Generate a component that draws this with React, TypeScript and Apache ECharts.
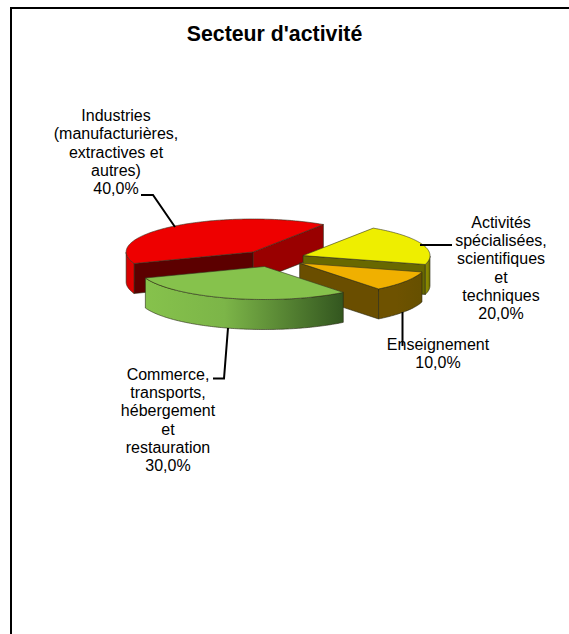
import React, { useEffect, useRef } from "react";
import * as echarts from "echarts";

const titleText = "Secteur d'activité";
const categories = [
  "Industries\n(manufacturières,\nextractives et\nautres)",
  "Activités\nspécialisées,\nscientifiques\net\ntechniques",
  "Enseignement",
  "Commerce,\ntransports,\nhébergement\net\nrestauration",
];
const values = [40, 20, 10, 30];

// pie geometry (pixels, degrees)
const center = { x: 273, y: 258.5 };
const rx = 127;
const ry = 33;
const depth = 30;
const explode = 32;
const firstAngle = 200.4; // counter-clockwise from +x, slices run clockwise

const palette = [
  { top: "#ee0000", startFace: "#5c0000", endFace: "#990000", arc: ["#d80000", "#e40000"] },
  { top: "#eeee00", startFace: "#666600", endFace: "#686800", arc: ["#8a8a00", "#6e6e00"] },
  { top: "#f0b000", startFace: "#6a4e00", endFace: "#6a4e00", arc: ["#6e5200", "#665000"] },
  { top: "#86c24c", startFace: "#4f7a2c", endFace: "#4f7a2c", arc: ["#86c24c", "#33561f"] },
];

const labelCenters = [
  { x: 116, y: 152 },
  { x: 501, y: 268 },
  { x: 438, y: 353.5 },
  { x: 168, y: 420 },
];
const leaders = [
  [[141, 195], [153, 195], [175, 227]],
  [[420, 245], [452, 245]],
  [[402.5, 312], [402.5, 346]],
  [[213, 378.5], [224, 378.5], [228, 328]],
];

const total = values.reduce((a, b) => a + b, 0);
const fmt = (v: number) => ((v / total) * 100).toFixed(1).replace(".", ",") + "%";
const rad = (d: number) => (d * Math.PI) / 180;

function renderSlice(params: any, api: any) {
  const i = params.dataIndex;
  const colors = palette[i];
  let t0 = firstAngle;
  for (let k = 0; k < i; k++) t0 -= (values[k] / total) * 360;
  const t1 = t0 - (api.value(0) / total) * 360;
  const mid = (t0 + t1) / 2;
  const cx = center.x + explode * Math.cos(rad(mid));
  const cy = center.y - (explode * ry * Math.sin(rad(mid))) / rx;
  const pt = (t: number, d = 0): number[] => [
    cx + rx * Math.cos(rad(t)),
    cy - ry * Math.sin(rad(t)) + d,
  ];
  const edge = "rgba(40,40,20,0.75)";
  const children: any[] = [];
  const face = (t: number, fill: string) =>
    children.push({
      type: "polygon",
      shape: { points: [[cx, cy], pt(t), pt(t, depth), [cx, cy + depth]] },
      style: { fill, stroke: edge, lineWidth: 0.8 },
    });
  if (Math.cos(rad(t0)) < 0) face(t0, colors.startFace);
  if (Math.cos(rad(t1)) > 0) face(t1, colors.endFace);

  // visible outer wall: the part of the rim on the lower half of the ellipse
  const wallTop: number[][] = [];
  const wallBottom: number[][] = [];
  for (let t = t0; t >= t1 - 0.01; t -= 1) {
    if (Math.sin(rad(t)) <= 0.001) {
      wallTop.push(pt(t));
      wallBottom.unshift(pt(t, depth));
    }
  }
  if (wallTop.length > 1) {
    children.push({
      type: "polygon",
      shape: { points: wallTop.concat(wallBottom) },
      style: {
        fill: new echarts.graphic.LinearGradient(0, 0, 1, 0, [
          { offset: 0, color: colors.arc[0] },
          { offset: 0.4, color: i === 3 ? "#7cb548" : colors.arc[0] },
          { offset: 1, color: colors.arc[1] },
        ]),
        stroke: edge,
        lineWidth: 0.8,
      },
    });
  }

  const topPts: number[][] = [[cx, cy]];
  for (let t = t0; t > t1; t -= 1) topPts.push(pt(t));
  topPts.push(pt(t1));
  children.push({
    type: "polygon",
    shape: { points: topPts },
    style: { fill: colors.top, stroke: "rgba(50,50,30,0.65)", lineWidth: 0.9 },
  });
  return { type: "group", children };
}

export default function App() {
  const ref = useRef<HTMLDivElement>(null);
  useEffect(() => {
    const chart = echarts.init(ref.current!, null, { renderer: "svg" });
    const font = "Arial, 'Liberation Sans', sans-serif";
    chart.setOption({
      animation: false,
      backgroundColor: "#ffffff",
      title: {
        text: titleText,
        left: 269.5,
        top: 18,
        textAlign: "center",
        textStyle: { fontFamily: font, fontSize: 21.3, fontWeight: "bold", color: "#000" },
      },
      series: [
        {
          type: "custom",
          coordinateSystem: "none",
          renderItem: renderSlice,
          data: values.map((v) => [v]),
          silent: true,
        },
      ],
      graphic: [
        {
          type: "polyline",
          z: 10,
          shape: { points: [[11, 634], [11, 8], [569, 8]] },
          style: { fill: "none", stroke: "#000", lineWidth: 2 },
        },
        ...leaders.map((points) => ({
          type: "polyline",
          z: 10,
          shape: { points },
          style: { fill: "none", stroke: "#000", lineWidth: 2 },
        })),
        ...categories.map((c, i) => ({
          type: "text",
          z: 11,
          x: labelCenters[i].x,
          y: labelCenters[i].y,
          style: {
            text: c + "\n" + fmt(values[i]),
            fontFamily: font,
            fontSize: 16,
            lineHeight: 18.3,
            fill: "#000",
            align: "center",
            verticalAlign: "middle",
          },
        })),
      ],
    });
    return () => chart.dispose();
  }, []);
  return (
    <div
      ref={ref}
      style={{ position: "absolute", left: 0, top: 0, width: 569, height: 634 }}
    />
  );
}
